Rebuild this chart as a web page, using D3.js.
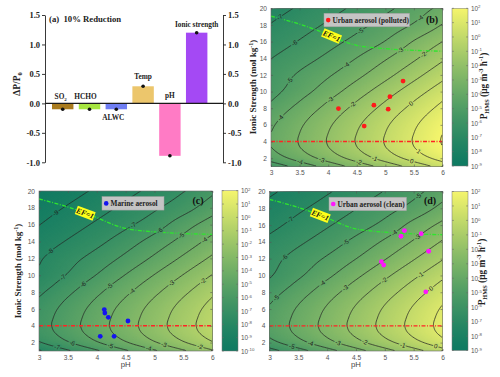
<!DOCTYPE html>
<html><head><meta charset="utf-8">
<script src="https://cdn.jsdelivr.net/npm/d3@7/dist/d3.min.js"></script>
<style>html,body{margin:0;padding:0;background:#fff;}</style>
</head><body>
<svg id="chart" width="500" height="377" xmlns="http://www.w3.org/2000/svg"></svg>
<script>
// ================= DATA =================
const barCats = ["SO2","HCHO","ALWC","Temp","pH","Ionic strength"];
const barVals = [-0.10,-0.10,-0.10,0.29,-0.89,1.20];
const barColors = ["#a97b1e","#a6e53f","#6f7ef3","#ecc66c","#ff7bc5","#a449f4"];
const barTicks = [-1.0,-0.5,0.0,0.5,1.0,1.5];

const pHTicks = [3,3.5,4,4.5,5,5.5,6];
const isTicks = [2,4,6,8,10,12,14,16,18,20];

// log10(P_HMS) (b) contours; rows = isGrid, cols = pHGrid
const pHGrid = [3,3.5,4,4.5,5,5.5,6];
const isGrid = [1,2,3,4,5,6,7,8,9,10,12,14,16,18,20];
const logPGrid = [
 [-5.64,-4.64,-3.64,-2.64,-1.64,-0.64,0.36],
 [-4.60,-3.60,-2.60,-1.60,-0.60,0.40,1.40],
 [-4.10,-3.10,-2.10,-1.10,-0.10,0.90,1.90],
 [-3.94,-2.94,-1.94,-0.94,0.06,1.06,2.06],
 [-4.00,-3.00,-2.00,-1.00,0.00,1.00,2.00],
 [-4.14,-3.14,-2.14,-1.14,-0.14,0.86,1.86],
 [-4.38,-3.38,-2.38,-1.38,-0.38,0.62,1.62],
 [-4.70,-3.70,-2.70,-1.70,-0.70,0.30,1.30],
 [-5.06,-4.06,-3.06,-2.06,-1.06,-0.06,0.94],
 [-5.35,-4.42,-3.46,-2.46,-1.46,-0.46,0.54],
 [-5.61,-4.87,-4.12,-3.26,-2.31,-1.32,-0.32],
 [-6.02,-5.42,-4.77,-3.98,-3.10,-2.15,-1.16],
 [-6.52,-5.94,-5.35,-4.70,-3.96,-2.94,-2.00],
 [-6.95,-6.41,-5.87,-5.28,-4.64,-3.90,-2.95],
 [-7.41,-6.88,-6.35,-5.80,-5.21,-4.55,-3.70]
];
// panels (c) and (d) show the same surface shifted in log10 P
const panelShift = {b:0, c:-2.5, d:-0.75};
const cbExpMin = {b:-9, c:-10, d:-9};
const cbExpMax = 2;

const efPH = [3,3.25,3.5,3.75,4,4.25,4.5,4.75,5,5.5,6];
const efIS = [19.05,18.6,18.1,17.5,16.85,16.1,15.55,15.3,15.15,14.95,14.85];
const refIS = 4;
const efLabelPH = {b:4.06, c:3.8, d:3.88};

const urbanPolluted = {pH:[4.18,4.63,4.80,5.05,5.08,5.31], IS:[7.96,5.85,8.36,7.88,9.39,11.26]};
const marine = {pH:[4.13,4.14,4.20,4.54,4.06,4.30], IS:[5.92,5.51,5.00,4.56,2.74,2.74]};
const urbanClean = {pH:[5.34,5.28,5.63,4.94,4.98,5.76,5.71], IS:[15.34,14.67,14.98,11.64,11.24,12.88,8.05]};

// contour label anchors [level, pH, IS]
const labelsB = [[-7,3.15,18.9],[-6,3.41,15.8],[-5,3.3,11.5],[-5,4.56,17.2],[-4,4.32,13.3],[-4,5.64,18.7],[-4,3.15,6.9],[-3,5.26,15.0],[-3,4.02,9.1],[-2,5.67,14.43],[-2,4.41,8.5],[0,5.46,8.56],[-4,3.5,1.5],[-3,3.88,1.7],[-2,4.53,1.5],[-1,4.79,1.7],[0,5.46,1.6],[1,5.58,2.8]];
const labelsC = [[-9,3.29,17.26],[-8,3.19,12.86],[-7,3.35,10.2],[-6,3.81,8.5],[-5,4.23,8.6],[-4,4.63,7.9],[-7,4.63,15.95],[-6,5.08,15.27],[-5,5.49,14.56],[-4,5.86,14.08],[-3,5.32,8.89],[-2,5.75,10.0],[-7,3.31,1.46],[-6,3.57,1.79],[-5,4.23,1.46],[-4,4.89,1.15],[-3,5.17,1.67],[-2,5.84,3.06]];
const labelsD = [[-7,3.38,16.4],[-6,3.25,12.16],[-6,4.53,17.7],[-5,4.32,13.9],[-4,5.16,15.2],[-3,5.56,14.5],[-5,5.58,19.4],[-5,3.09,7.54],[-4,3.9,9.25],[-3,4.32,8.45],[-2,4.98,9.45],[-1,5.58,10.5],[0,5.79,8.45],[-5,3.39,1.48],[-4,3.7,1.6],[-3,4.17,1.7],[-2,4.63,1.8],[-1,5.3,1.5],[0,5.87,1.5]];

// ================= RENDER =================
const svg = d3.select("#chart");
const SERIF = "'Liberation Serif','Times New Roman',Times,serif";
const SANS = "'Liberation Sans',Arial,Helvetica,sans-serif";
const cLo = d3.rgb(15,122,98), cHi = d3.rgb(245,245,108);
const summer = t => {
  t = Math.max(0, Math.min(1, t)); t = Math.pow(t, 1.25);
  return d3.rgb(cLo.r + (cHi.r-cLo.r)*t, cLo.g + (cHi.g-cLo.g)*t, cLo.b + (cHi.b-cLo.b)*t).formatHex();
};
const defs = svg.append("defs");

function addRich(textSel, parts, size){
  let cur = 0;
  parts.forEach(p => {
    const [t, m] = Array.isArray(p) ? p : [p, null];
    let target = 0, fs = size;
    if (m === "sup") { target = -size*0.38; fs = size*0.68; }
    if (m === "sub") { target = size*0.25; fs = size*0.68; }
    textSel.append("tspan").attr("dy", (target-cur).toFixed(2)).attr("font-size", fs.toFixed(2)).text(t);
    cur = target;
  });
}

// ---------- Panel (a) ----------
(function(){
  const g = svg.append("g");
  const X0 = 45, X1 = 223;
  const xA = d3.scaleBand().domain(barCats).range([52, 207.4]).paddingInner(0.2).paddingOuter(0);
  const yA = d3.scaleLinear().domain([-1, 1.5]).range([162.3, 15]);
  g.selectAll("rect.bar").data(barCats).join("rect").attr("class","bar")
    .attr("x", d => xA(d)).attr("width", xA.bandwidth())
    .attr("y", (d,i) => yA(Math.max(0, barVals[i])))
    .attr("height", (d,i) => Math.abs(yA(barVals[i]) - yA(0)))
    .attr("fill", (d,i) => barColors[i]);
  g.append("line").attr("x1", X0).attr("x2", X1).attr("y1", yA(0)).attr("y2", yA(0))
    .attr("stroke", "#1a1a1a").attr("stroke-width", 1.1);
  g.selectAll("circle.dot").data(barCats).join("circle").attr("class","dot")
    .attr("cx", d => xA(d) + xA.bandwidth()/2).attr("cy", (d,i) => yA(barVals[i]))
    .attr("r", 1.8).attr("fill", "#111");
  const fmt = d => d.toFixed(1);
  const left = g.append("g").attr("transform", `translate(${X0},0)`)
    .call(d3.axisLeft(yA).tickValues(barTicks).tickFormat(fmt).tickSize(3).tickSizeOuter(0).tickPadding(2));
  const right = g.append("g").attr("transform", `translate(${X1},0)`)
    .call(d3.axisRight(yA).tickValues(barTicks).tickFormat(fmt).tickSize(3).tickSizeOuter(0).tickPadding(2));
  [left, right].forEach(a => {
    a.selectAll("text").attr("font-family", SERIF).attr("font-weight", "bold").attr("font-size", 8.5).attr("fill", "#222");
    a.selectAll("line,path").attr("stroke", "#222").attr("stroke-width", 0.9);
  });
  const lab = (name, yy, dx) => g.append("text").attr("x", xA(name) + xA.bandwidth()/2 + (dx||0)).attr("y", yy)
      .attr("text-anchor", "middle").attr("font-family", SERIF).attr("font-weight", "bold")
      .attr("font-size", 7.3).attr("fill", "#222");
  addRich(lab("SO2", yA(0) - 4, -2), ["SO", ["2","sub"]], 7.3);
  lab("HCHO", yA(0) - 4, -4).text("HCHO");
  lab("ALWC", yA(barVals[2]) + 11, -3).text("ALWC");
  lab("Temp", yA(barVals[3]) - 7).text("Temp");
  lab("pH", yA(0) - 5).text("pH");
  lab("Ionic strength", yA(barVals[5]) - 6).text("Ionic strength");
  g.append("text").attr("x", 49).attr("y", 21.5).attr("font-family", SERIF).attr("font-weight", "bold")
    .attr("font-size", 8.7).attr("fill", "#222").attr("xml:space","preserve").text("(a)  10% Reduction");
  const yl = g.append("text").attr("transform", "translate(20,84) rotate(-90)").attr("text-anchor", "middle")
    .attr("font-family", SERIF).attr("font-weight", "bold").attr("font-size", 9.5).attr("fill", "#222");
  addRich(yl, ["ΔP/P", ["0","sub"]], 9.5);
})();

// ---------- contour panels ----------
const NX = 120, NY = 152;
function slopes(xs, ys){
  const n = xs.length, m = new Array(n);
  for (let i = 0; i < n; i++){
    if (i === 0) m[i] = (ys[1]-ys[0])/(xs[1]-xs[0]);
    else if (i === n-1) m[i] = (ys[n-1]-ys[n-2])/(xs[n-1]-xs[n-2]);
    else {
      const h0 = xs[i]-xs[i-1], h1 = xs[i+1]-xs[i];
      const d0 = (ys[i]-ys[i-1])/h0, d1 = (ys[i+1]-ys[i])/h1;
      m[i] = (d0*h1 + d1*h0)/(h0+h1);
    }
  }
  return m;
}
function herm(xs, ys, ms, x){
  let i = d3.bisectRight(xs, x) - 1; i = Math.max(0, Math.min(xs.length-2, i));
  const h = xs[i+1]-xs[i], t = (x-xs[i])/h, t2 = t*t, t3 = t2*t;
  return (2*t3-3*t2+1)*ys[i] + (t3-2*t2+t)*h*ms[i] + (-2*t3+3*t2)*ys[i+1] + (t3-t2)*h*ms[i+1];
}
function buildField(shift){
  const cols = pHGrid.map((_, k) => { const ys = isGrid.map((_, r) => logPGrid[r][k] + shift); return {ys, ms: slopes(isGrid, ys)}; });
  const vals = new Float64Array(NX*NY);
  for (let j = 0; j < NY; j++){
    const IS = 1 + (j+0.5)*19/NY;
    const row = cols.map(c => herm(isGrid, c.ys, c.ms, IS));
    const rm = slopes(pHGrid, row);
    for (let i = 0; i < NX; i++){
      const pH = 3 + (i+0.5)*3/NX;
      vals[j*NX+i] = herm(pHGrid, row, rm, pH);
    }
  }
  return vals;
}

function panel(key, cfg){
  const g = svg.append("g");
  const x = d3.scaleLinear().domain([3,6]).range([cfg.x0, cfg.x1]);
  const y = d3.scaleLinear().domain([1,20]).range([cfg.y1, cfg.y0]);
  const lo = cbExpMin[key], hi = cbExpMax;
  const cmap = v => summer((v - lo)/(hi - lo));
  const vals = buildField(panelShift[key]);
  const vmin = d3.min(vals), vmax = d3.max(vals);
  const cx = c => x(3 + c*3/NX), cy = c => y(1 + c*19/NY);
  const ringPath = ring => "M" + ring.map(p => cx(p[0]).toFixed(2)+","+cy(p[1]).toFixed(2)).join("L") + "Z";
  const mpPath = mp => mp.coordinates.map(poly => poly.map(ringPath).join("")).join("");
  const clipId = "clip-" + key;
  defs.append("clipPath").attr("id", clipId).append("rect")
    .attr("x", cfg.x0).attr("y", cfg.y0).attr("width", cfg.x1-cfg.x0).attr("height", cfg.y1-cfg.y0);
  const plot = g.append("g").attr("clip-path", `url(#${clipId})`);
  plot.append("rect").attr("x", cfg.x0).attr("y", cfg.y0).attr("width", cfg.x1-cfg.x0).attr("height", cfg.y1-cfg.y0)
    .attr("fill", cmap(vmin));
  const step = 0.05;
  const th = d3.range(Math.ceil(vmin/step)*step, vmax, step);
  const bands = d3.contours().size([NX, NY]).thresholds(th)(vals);
  plot.append("g").selectAll("path").data(bands).join("path")
    .attr("d", mpPath).attr("fill", d => cmap(d.value + step/2));

  // contour lines
  const levels = d3.range(Math.ceil(vmin), Math.floor(vmax) + 1);
  const lineGen = d3.line().x(p => cx(p[0])).y(p => cy(p[1]));
  const linesByLevel = {};
  const cset = d3.contours().size([NX, NY]).thresholds(levels)(vals);
  cset.forEach(c => {
    const lines = [];
    c.coordinates.forEach(poly => poly.forEach(ring => {
      let cur = [];
      for (const p of ring){
        if (cur.length){
          const q = cur[cur.length-1];
          const onB = (q[0]===0&&p[0]===0)||(q[0]===NX&&p[0]===NX)||(q[1]===0&&p[1]===0)||(q[1]===NY&&p[1]===NY);
          if (onB){ if (cur.length > 1) lines.push(cur); cur = [p]; continue; }
        }
        cur.push(p);
      }
      if (cur.length > 1) lines.push(cur);
    }));
    linesByLevel[Math.round(c.value)] = lines;
    plot.append("g").selectAll("path").data(lines).join("path")
      .attr("d", lineGen).attr("fill", "none").attr("stroke", "#262626").attr("stroke-width", 0.75);
  });

  // reference lines
  plot.append("line").attr("x1", x(3)).attr("x2", x(6)).attr("y1", y(refIS)).attr("y2", y(refIS))
    .attr("stroke", "#ff2424").attr("stroke-width", 1.3).attr("stroke-dasharray", "4,1.5,1,1.5");
  const efPts = efPH.map((p, i) => [p, efIS[i]]);
  plot.append("path").datum(efPts)
    .attr("d", d3.line().x(d => x(d[0])).y(d => y(d[1])).curve(d3.curveMonotoneX))
    .attr("fill", "none").attr("stroke", "#2ee52e").attr("stroke-width", 1.3).attr("stroke-dasharray", "4,1.5,1,1.5");

  // contour labels
  cfg.labels.forEach(([lev, lp, li]) => {
    const lines = linesByLevel[lev]; if (!lines) return;
    const ax = x(lp), ay = y(li);
    let best = null, bd = 1e9;
    lines.forEach(L => L.forEach((p, k) => {
      const d = (cx(p[0])-ax)**2 + (cy(p[1])-ay)**2;
      if (d < bd){ bd = d; best = {L, k}; }
    }));
    if (!best || bd > 225) return;
    const L = best.L, k = best.k;
    const a = L[Math.max(0, k-3)], b = L[Math.min(L.length-1, k+3)];
    let ang = Math.atan2(cy(b[1]) - cy(a[1]), cx(b[0]) - cx(a[0])) * 180/Math.PI;
    if (ang > 90) ang -= 180; if (ang < -90) ang += 180;
    const px = cx(L[k][0]), py = cy(L[k][1]);
    plot.append("text").attr("transform", `translate(${px.toFixed(2)},${py.toFixed(2)}) rotate(${ang.toFixed(1)})`)
      .attr("text-anchor", "middle").attr("dy", "0.33em")
      .attr("font-family", SANS).attr("font-size", 6.3).attr("fill", "#1e1e1e")
      .attr("stroke", cmap(lev)).attr("stroke-width", 2.6).attr("paint-order", "stroke")
      .text(String(lev));
  });

  // EF=1 label
  const ep = efLabelPH[key];
  const efAt = p => { const i = Math.max(0, Math.min(efPH.length-2, d3.bisectRight(efPH, p)-1)); const t = (p-efPH[i])/(efPH[i+1]-efPH[i]); return efIS[i] + t*(efIS[i+1]-efIS[i]); };
  const ex = x(ep), ey = y(efAt(ep));
  const eang = Math.atan2(y(efAt(ep+0.15)) - y(efAt(ep-0.15)), x(ep+0.15) - x(ep-0.15)) * 180/Math.PI;
  const eg = plot.append("g").attr("transform", `translate(${ex.toFixed(2)},${ey.toFixed(2)}) rotate(${eang.toFixed(1)})`);
  eg.append("rect").attr("x", -9.5).attr("y", -4.5).attr("width", 19).attr("height", 9).attr("fill", "#ffff1a");
  eg.append("text").attr("text-anchor", "middle").attr("dy", "0.34em").attr("font-family", SERIF)
    .attr("font-weight", "bold").attr("font-style", "italic").attr("font-size", 7.5).attr("fill", "#111").text("EF=1");

  // scatter
  const S = cfg.points;
  plot.append("g").selectAll("circle").data(S.pH).join("circle")
    .attr("cx", d => x(d)).attr("cy", (d,i) => y(S.IS[i])).attr("r", 2.4).attr("fill", cfg.color);

  // frame
  g.append("rect").attr("x", cfg.x0).attr("y", cfg.y0).attr("width", cfg.x1-cfg.x0).attr("height", cfg.y1-cfg.y0)
    .attr("fill", "none").attr("stroke", "#6a6a6a").attr("stroke-width", 0.6);
  const fx = d => (d === Math.round(d)) ? String(d) : d.toFixed(1);
  const axes = [
    g.append("g").attr("transform", `translate(0,${cfg.y1})`).call(d3.axisBottom(x).tickValues(pHTicks).tickFormat(fx).tickSizeInner(-2).tickSizeOuter(0).tickPadding(4)),
    g.append("g").attr("transform", `translate(${cfg.x0},0)`).call(d3.axisLeft(y).tickValues(isTicks).tickSizeInner(-2).tickSizeOuter(0).tickPadding(4)),
    g.append("g").attr("transform", `translate(0,${cfg.y0})`).call(d3.axisTop(x).tickValues(pHTicks).tickFormat("").tickSizeInner(-2).tickSizeOuter(0)),
    g.append("g").attr("transform", `translate(${cfg.x1},0)`).call(d3.axisRight(y).tickValues(isTicks).tickFormat("").tickSizeInner(-2).tickSizeOuter(0))
  ];
  axes.forEach(a => {
    a.select(".domain").remove();
    a.selectAll("line").attr("stroke", "#555").attr("stroke-width", 0.6);
    a.selectAll("text").attr("font-family", SANS).attr("font-size", 6.6).attr("fill", "#555");
  });

  // legend
  const lg = g.append("g");
  lg.append("rect").attr("x", cfg.leg.x).attr("y", cfg.leg.y).attr("width", cfg.leg.w).attr("height", 13.5)
    .attr("fill", "#c4c4c4").attr("stroke", "#a0a0a0").attr("stroke-width", 0.5);
  lg.append("circle").attr("cx", cfg.leg.x + 4.2).attr("cy", cfg.leg.y + 6.8).attr("r", 2.3).attr("fill", cfg.color);
  lg.append("text").attr("x", cfg.leg.x + 8.5).attr("y", cfg.leg.y + 9.5).attr("font-family", SERIF)
    .attr("font-weight", "bold").attr("font-size", 7.3).attr("fill", "#222").text(cfg.legText);
  g.append("text").attr("x", cfg.tag[0]).attr("y", cfg.tag[1]).attr("text-anchor", "middle").attr("font-family", SERIF)
    .attr("font-weight", "bold").attr("font-size", 10).attr("fill", "#111").text(`(${key})`);

  // colorbar
  const gid = "grad-" + key;
  const grad = defs.append("linearGradient").attr("id", gid).attr("x1", 0).attr("y1", 1).attr("x2", 0).attr("y2", 0);
  d3.range(0, 41).forEach(i => grad.append("stop").attr("offset", i/40).attr("stop-color", summer(i/40)));
  const cbY = d3.scaleLinear().domain([lo, hi]).range([cfg.cb1, cfg.cb0]);
  const cbx = cfg.cbx, cbw = 16;
  g.append("rect").attr("x", cbx).attr("y", cfg.cb0).attr("width", cbw).attr("height", cfg.cb1 - cfg.cb0)
    .attr("fill", `url(#${gid})`).attr("stroke", "#777").attr("stroke-width", 0.5);
  d3.range(lo, hi + 1).forEach(e => {
    const yy = cbY(e);
    g.append("line").attr("x1", cbx + cbw - 2).attr("x2", cbx + cbw).attr("y1", yy).attr("y2", yy).attr("stroke", "#666").attr("stroke-width", 0.5);
    g.append("line").attr("x1", cbx).attr("x2", cbx + 2).attr("y1", yy).attr("y2", yy).attr("stroke", "#666").attr("stroke-width", 0.5);
    const t = g.append("text").attr("x", cbx + cbw + 3).attr("y", yy + 2.6).attr("font-family", SANS)
      .attr("font-size", 6.4).attr("fill", "#555");
    addRich(t, ["10", [String(e), "sup"]], 6.4);
  });
  if (cfg.cbTitle){
    const t = g.append("text").attr("transform", `translate(${cfg.cbTitle[0]},${cfg.cbTitle[1]}) rotate(-90)`)
      .attr("text-anchor", "middle").attr("font-family", SERIF).attr("font-weight", "bold").attr("font-size", 9.3).attr("fill", "#222");
    addRich(t, ["P", ["HMS","sub"], " (μg m", ["-3","sup"], " h", ["-1","sup"], ")"], 9.3);
  }
  if (cfg.yTitle){
    const t = g.append("text").attr("transform", `translate(${cfg.yTitle[0]},${cfg.yTitle[1]}) rotate(-90)`)
      .attr("text-anchor", "middle").attr("font-family", SERIF).attr("font-weight", "bold").attr("font-size", 9).attr("fill", "#222");
    addRich(t, ["Ionic Strength (mol kg", ["-1","sup"], ")"], 9);
  }
  if (cfg.xTitle){
    g.append("text").attr("x", (cfg.x0 + cfg.x1)/2).attr("y", cfg.xTitle).attr("text-anchor", "middle")
      .attr("font-family", SANS).attr("font-size", 7.8).attr("fill", "#444").text("pH");
  }
}

panel("b", {x0:271, x1:442.5, y0:8.3, y1:166.5, labels:labelsB, points:urbanPolluted, color:"#ff1a1a",
  leg:{x:324, y:13.3, w:85.5}, legText:"Urban aerosol (polluted)", tag:[432, 22.5],
  cbx:452, cb0:8.3, cb1:166, cbTitle:[487, 86], yTitle:[256, 87], xTitle:null});
panel("c", {x0:39, x1:212.3, y0:191, y1:351, labels:labelsC, points:marine, color:"#1414f0",
  leg:{x:102, y:196.6, w:62}, legText:"Marine aerosol", tag:[198, 204],
  cbx:222, cb0:190.7, cb1:351, cbTitle:null, yTitle:[21, 271], xTitle:366.5});
panel("d", {x0:269.5, x1:442.5, y0:191.5, y1:351, labels:labelsD, points:urbanClean, color:"#ff14ff",
  leg:{x:329, y:197.2, w:77.5}, legText:"Urban aerosol (clean)", tag:[430, 204],
  cbx:452, cb0:191.5, cb1:350.5, cbTitle:[485, 272], yTitle:null, xTitle:366.5});
</script>
</body></html>
